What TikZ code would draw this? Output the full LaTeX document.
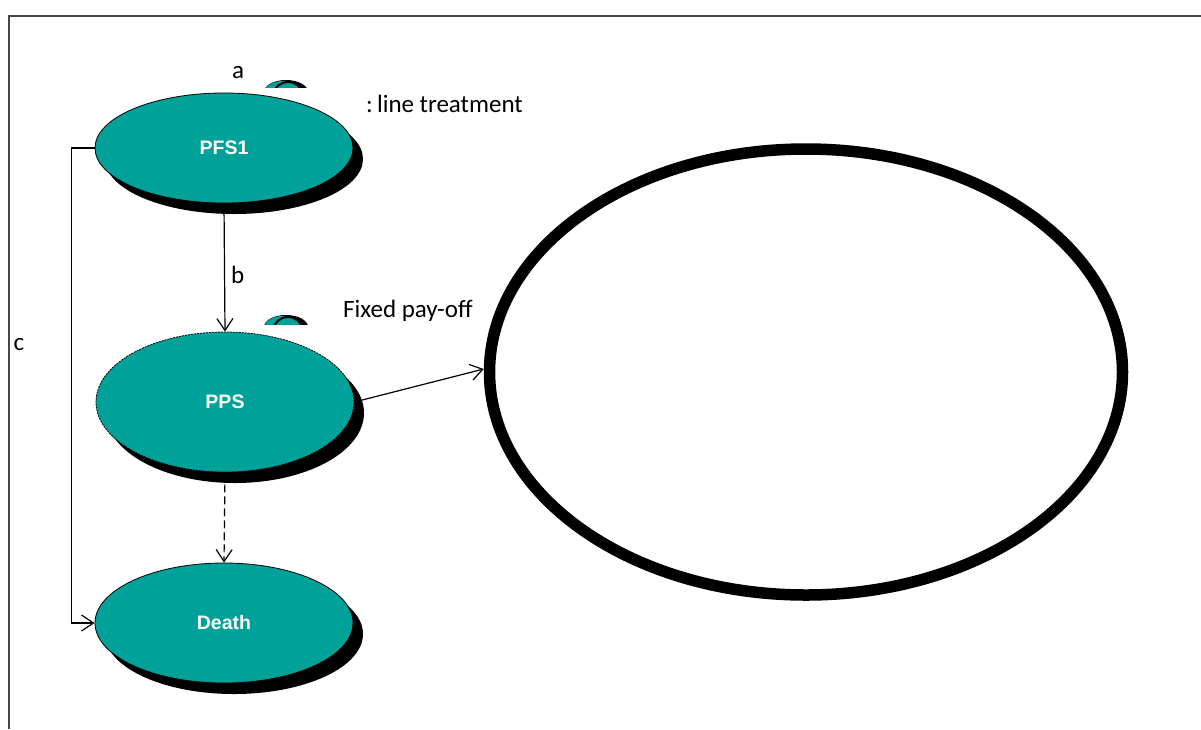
\documentclass[tikz,border=0pt]{standalone}
\usepackage{fontspec}
\setmainfont{Carlito}
\newfontfamily\statefont{Liberation Sans}
\usepackage{xcolor}
\usepackage{tikz}
\usetikzlibrary{arrows.meta,shapes.geometric,shadows}
\definecolor{stateteal}{RGB}{0,161,153}
\definecolor{framegray}{RGB}{70,70,70}

\begin{document}
\begin{tikzpicture}[
  x=1pt, y=-1pt,
  state/.style={ellipse, draw, fill=stateteal, line width=0.8pt, inner sep=0pt,
    minimum width=258pt, text=white, font=\statefont\bfseries\fontsize{19.5}{22}\selectfont,
    drop shadow={shadow xshift=10pt, shadow yshift=-11pt, opacity=1, fill=black}},
  arr/.style={-{Straight Barb[length=12pt,width=16pt]}, line width=1.2pt},
  lbl/.style={inner sep=0pt, font=\fontsize{25}{30}\selectfont},
]
\useasboundingbox (0,0) rectangle (1201,729);
\draw[framegray, line width=2pt] (1201,15.5) -- (8.5,15.5) -- (8.5,729);

% small loop marks above the states
\foreach \ltop/\lcut in {80/87, 315/324} {
  \begin{scope}
    \clip (255,\ltop-2) rectangle (315,\lcut);
    \fill[black] (286,\ltop+12) ellipse [x radius=22pt, y radius=12pt];
    \fill[stateteal] (283,\ltop+13) ellipse [x radius=19pt, y radius=12pt];
    \draw[line width=2pt] (288,\ltop+14) ellipse [x radius=14pt, y radius=12pt];
  \end{scope}
}

\node[state, minimum height=110pt] (PFS1) at (224,148) {PFS1};
\node[state, minimum height=140pt, dash pattern=on 2pt off 1pt] (PPS) at (225,402) {PPS};
\node[state, minimum height=120pt] (Death) at (224,623) {Death};
\node[ellipse, draw, line width=11.5pt, inner sep=0pt,
  minimum width=633pt, minimum height=446pt] (payoff) at (806,372) {};

\node[lbl, anchor=base] (lbla) at (238,78) {a};
\node[lbl, anchor=base west] (linetx) at (366,112) {:\,line treatment};
\node[lbl, anchor=base west] (fixed) at (343,317) {Fixed pay-off};
\node[lbl, anchor=base] (lblc) at (19,350) {c};

\draw[arr] (PFS1.south) -- node[lbl, right=6pt, pos=0.56] (lblb) {b} (PPS.north);
\draw[arr, dash pattern=on 8pt off 4pt] (PPS.south) -- (Death.north);
\draw[arr] (PFS1.west) -- ++(-23,0) |- (Death.west);
\draw[arr] (PPS.east) -- ([yshift=3pt]payoff.west);
\end{tikzpicture}
\end{document}
